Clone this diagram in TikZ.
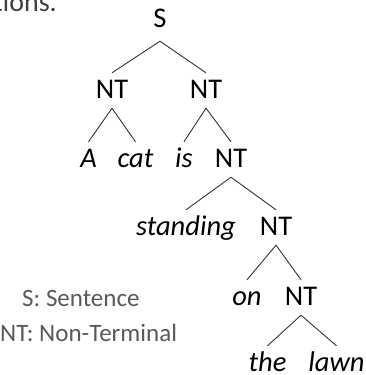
\documentclass[tikz,border=0pt]{standalone}
\usepackage{fontspec}
\setmainfont{Carlito}
\begin{document}
\begin{tikzpicture}[x=1pt,y=-1pt,
  tw/.style={anchor=base,inner xsep=0pt,inner ysep=7pt,text height=18pt,text depth=3pt,font=\fontsize{28.5}{30}\selectfont},
  tword/.style={tw,font=\fontsize{28.5}{30}\selectfont\itshape},
  legend/.style={anchor=base west,inner sep=0pt,text=legendgray,font=\fontsize{25}{28}\selectfont},
  edge/.style={draw=black!80,line width=0.9pt}]
\definecolor{legendgray}{HTML}{595959}
\definecolor{topgray}{HTML}{404040}
\useasboundingbox (0,0) rectangle (366,375);
\clip (0,0) rectangle (366,375);
\node[anchor=base east,inner sep=0pt,text=topgray,font=\fontsize{28}{30}\selectfont] (top) at (57,11) {tions.};
\node[tw] (S) at (160,27) {S};
\node[tw] (n1) at (112,98) {NT};
\node[tw] (n2) at (206,98) {NT};
\node[tword] (A) at (88.5,167) {A};
\node[tword] (cat) at (135.5,167) {cat};
\node[tword] (is) at (184,167) {is};
\node[tw] (n3) at (231,167) {NT};
\node[tword] (standing) at (186,235) {standing};
\node[tw] (n4) at (276,235) {NT};
\node[tword] (on) at (247,305) {on};
\node[tw] (n5) at (301,305) {NT};
\node[tword] (the) at (267.5,371) {the};
\node[tword] (lawn) at (336.5,371) {lawn};
\node[legend] (l1) at (22,306) {S: Sentence};
\node[legend] (l2) at (0,341) {NT: Non-Terminal};
\draw[edge] ([yshift=-4pt]S.south) -- (n1.north);
\draw[edge] ([yshift=-4pt]S.south) -- (n2.north);
\draw[edge] (n1.south) -- (A.north);
\draw[edge] (n1.south) -- (cat.north);
\draw[edge] (n2.south) -- (is.north);
\draw[edge] (n2.south) -- (n3.north);
\draw[edge] (n3.south) -- (standing.north);
\draw[edge] (n3.south) -- (n4.north);
\draw[edge] (n4.south) -- (on.north);
\draw[edge] (n4.south) -- (n5.north);
\draw[edge] (n5.south) -- (the.north);
\draw[edge] (n5.south) -- (lawn.north);
\end{tikzpicture}
\end{document}
